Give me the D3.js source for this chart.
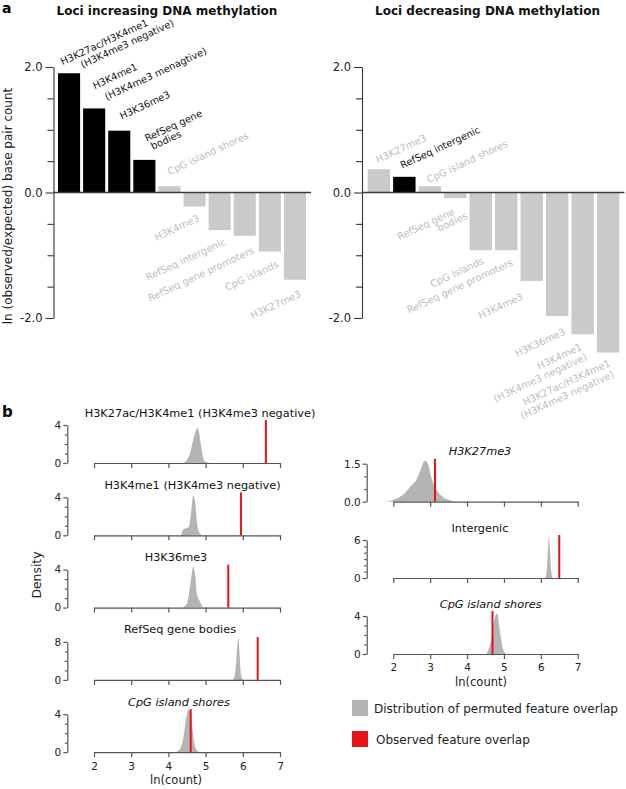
<!DOCTYPE html>
<html><head><meta charset="utf-8">
<script src="https://cdn.jsdelivr.net/npm/d3@7"></script>
<style>
body{margin:0;background:#fff}
svg{display:block}
text{font-family:"DejaVu Sans",sans-serif}
</style>
</head><body>
<svg id="c" width="626" height="789"></svg>
<script>
// ---------------- DATA ----------------
// Panel a: loci increasing DNA methylation
const incCategories = ["H3K27ac/H3K4me1 (H3K4me3 negative)","H3K4me1 (H3K4me3 menagtive)","H3K36me3","RefSeq gene bodies","CpG island shores","H3K4me3","RefSeq intergenic","RefSeq gene promoters","CpG islands","H3K27me3"];
const incValues = [1.90, 1.34, 0.985, 0.52, 0.10, -0.225, -0.60, -0.69, -0.94, -1.39];
const incHighlighted = [true, true, true, true, false, false, false, false, false, false];
const incLabelLines = [["H3K27ac/H3K4me1","(H3K4me3 negative)"],["H3K4me1","(H3K4me3 menagtive)"],["H3K36me3"],["RefSeq gene","bodies"],["CpG island shores"],["H3K4me3"],["RefSeq intergenic"],["RefSeq gene promoters"],["CpG islands"],["H3K27me3"]];

// Panel a: loci decreasing DNA methylation
const decCategories = ["H3K27me3","RefSeq intergenic","CpG island shores","RefSeq gene bodies","CpG Islands","RefSeq gene promoters","H3K4me3","H3K36me3","H3K4me1 (H3K4me3 negative)","H3K27ac/H3K4me1 (H3K4me3 negative)"];
const decValues = [0.37, 0.25, 0.10, -0.09, -0.92, -0.92, -1.41, -1.97, -2.26, -2.55];
const decHighlighted = [false, true, false, false, false, false, false, false, false, false];
const decLabelLines = [["H3K27me3"],["RefSeq intergenic"],["CpG island shores"],["RefSeq gene","bodies"],["CpG Islands"],["RefSeq gene promoters"],["H3K4me3"],["H3K36me3"],["H3K4me1","(H3K4me3 negative)"],["H3K27ac/H3K4me1","(H3K4me3 negative)"]];

const aMajorTicks = [-2, 0, 2];
const aMinorTicks = [-1.5, -1, -0.5, 0.5, 1, 1.5];

// Panel b: x ticks
const bXTicks = [2, 3, 4, 5, 6, 7];

// Panel b left column
const bLeftTitles = ["H3K27ac/H3K4me1 (H3K4me3 negative)","H3K4me1 (H3K4me3 negative)","H3K36me3","RefSeq gene bodies","CpG island shores"];
const bLeftItalic = [false, false, false, false, true];
const bLeftObserved = [6.62, 5.95, 5.61, 6.40, 4.60];
const bLeftYMax = [4, 4, 4, 8, 4];
const bLeftYStep = [1, 1, 1, 2, 1];
const densK27acK4me1 = [[4.40,0],[4.49,0.3],[4.58,1.0],[4.67,2.5],[4.73,3.35],[4.78,3.65],[4.82,3.3],[4.88,1.8],[4.94,0.5],[5.00,0.12],[5.12,0]];
const densK4me1 = [[4.34,0],[4.40,0.6],[4.47,0.75],[4.54,0.85],[4.58,1.4],[4.63,3.2],[4.67,4.2],[4.72,3.5],[4.76,1.7],[4.80,0.6],[4.88,0.05],[4.91,0]];
const densK36me3 = [[4.36,0],[4.49,0.35],[4.58,2.2],[4.63,3.65],[4.67,4.3],[4.72,3.4],[4.76,1.6],[4.80,1.0],[4.85,0.65],[4.90,0.2],[4.94,0]];
const densGeneBodies = [[5.74,0],[5.78,0.8],[5.82,3.5],[5.85,7.0],[5.88,8.8],[5.91,6.0],[5.94,2.0],[5.97,0.5],[6.01,0]];
const densShoresInc = [[4.18,0],[4.31,0.35],[4.40,1.5],[4.49,3.8],[4.55,4.55],[4.63,3.0],[4.70,0.9],[4.76,0.23],[4.85,0]];

// Panel b right column
const bRightTitles = ["H3K27me3","Intergenic","CpG island shores"];
const bRightItalic = [true, false, true];
const bRightObserved = [3.13, 6.50, 4.69];
const bRightYMax = [1.5, 6, 4];
const bRightYStep = [0.5, 1, 1];
const densK27me3 = [[1.77,0],[2.0,0.07],[2.27,0.28],[2.50,0.66],[2.63,0.87],[2.72,1.18],[2.86,1.62],[2.95,1.45],[3.04,0.92],[3.18,0.45],[3.36,0.17],[3.58,0.04],[3.65,0]];
const densIntergenic = [[6.12,0],[6.15,0.6],[6.18,3.0],[6.22,6.5],[6.25,4.0],[6.28,1.2],[6.32,0]];
const densShoresDec = [[4.53,0],[4.64,1.3],[4.73,3.4],[4.82,4.3],[4.89,2.4],[4.95,0.9],[5.01,0.2],[5.06,0]];

const legendLabels = ["Distribution of permuted feature overlap","Observed feature overlap"];

// ---------------- LAYOUT ----------------
const BLACK = "#000", GRAYBAR = "#cacaca", GRAYTXT = "#bcbcbc";
const DENS = "#b5b3b3", RED = "#e5121b";
const svg = d3.select("#c");

// label offsets (px) relative to bar centre / bar end
const incLabelOffsets = [[[-6.5,-8],[13.5,-5]],[[0.5,-19],[12.5,-8]],[[2.5,-11]],[[2.5,-18],[8.5,-10]],[[0,-11]],[[5.5,14]],[[6.7,14]],[[10,17]],[[9.5,15]],[[6.7,16.5]]];
const decLabelOffsets = [[[-1,-6]],[[-2,-8]],[[-1,-3]],[[0,16],[13,20]],[[4,13]],[[7.5,14.5]],[[-8,18]],[[9,18]],[[0,15],[5,25]],[[3,13],[6.5,24]]];

// panel letters
svg.append("text").attr("x",2).attr("y",13).attr("font-weight","bold").attr("font-size",14).text("a");
svg.append("text").attr("x",2).attr("y",417).attr("font-weight","bold").attr("font-size",15).text("b");

const yA = d3.scaleLinear().domain([-2, 2]).range([318, 67]);

function drawBarPanel(o) {
  const g = svg.append("g");
  const x = d3.scaleBand().domain(o.cats).range(o.range).paddingInner(0.12).paddingOuter(0.12);
  g.selectAll("rect.bar").data(o.cats).join("rect").attr("class","bar")
    .attr("x", d => x(d)).attr("width", x.bandwidth())
    .attr("y", (d,i) => yA(Math.max(0, o.vals[i])))
    .attr("height", (d,i) => Math.abs(yA(o.vals[i]) - yA(0)))
    .attr("fill", (d,i) => o.hi[i] ? BLACK : GRAYBAR);
  // zero line
  g.append("line").attr("x1", o.axisX).attr("x2", o.range[1] + 2)
    .attr("y1", yA(0)).attr("y2", yA(0)).attr("stroke", "#3a3a3a").attr("stroke-width", 1.3);
  // axes
  const major = g.append("g").attr("transform", `translate(${o.axisX},0)`)
    .call(d3.axisLeft(yA).tickValues(aMajorTicks).tickSize(8).tickSizeOuter(0).tickPadding(3).tickFormat(d => d.toFixed(1)));
  const minor = g.append("g").attr("transform", `translate(${o.axisX},0)`)
    .call(d3.axisLeft(yA).tickValues(aMinorTicks).tickSize(6).tickSizeOuter(0).tickFormat(""));
  minor.select(".domain").remove();
  [major, minor].forEach(a => {
    a.attr("font-family", null).attr("font-size", null);
    a.selectAll("path,line").attr("stroke", "#333").attr("stroke-width", 1.1);
    a.selectAll("text").attr("font-size", 11.5).attr("fill", "#222");
  });
  // title
  g.append("text").attr("x", o.titleX).attr("y", 15).attr("text-anchor", "middle")
    .attr("font-weight", "bold").attr("font-size", 12).attr("fill", "#111").text(o.title);
  // labels
  o.cats.forEach((c, i) => {
    const cx = x(c) + x.bandwidth() / 2;
    const pos = o.vals[i] >= 0;
    const yy = yA(o.vals[i]);
    o.lines[i].forEach((ln, j) => {
      const [dx, dy] = o.offs[i][j];
      g.append("text")
        .attr("transform", `translate(${cx + dx},${yy + dy}) rotate(-25)`)
        .attr("text-anchor", pos ? "start" : "end")
        .attr("font-size", 9.8)
        .attr("fill", o.hi[i] ? "#111" : GRAYTXT)
        .text(ln);
    });
  });
}

drawBarPanel({cats: incCategories, vals: incValues, hi: incHighlighted, lines: incLabelLines, offs: incLabelOffsets,
  range: [55, 309], axisX: 53.5, title: "Loci increasing DNA methylation", titleX: 167});
drawBarPanel({cats: decCategories, vals: decValues, hi: decHighlighted, lines: decLabelLines, offs: decLabelOffsets,
  range: [364.6, 622.4], axisX: 362, title: "Loci decreasing DNA methylation", titleX: 487.5});

svg.append("text").attr("transform", "translate(12,206) rotate(-90)").attr("text-anchor", "middle")
  .attr("font-size", 12).attr("fill", "#222").text("ln (observed/expected) base pair count");

// ---------------- Panel b ----------------
function drawDensity(o) {
  const g = svg.append("g");
  const x = d3.scaleLinear().domain([2, 7]).range(o.xr);
  const y = d3.scaleLinear().domain([0, o.ymax]).range([o.axisY, o.axisY - 38]);
  const area = d3.area().x(d => x(d[0])).y0(y(0)).y1(d => y(d[1])).curve(d3.curveMonotoneX);
  g.append("path").datum(o.dens).attr("d", area).attr("fill", DENS);
  // x axis
  const xa = g.append("g").attr("transform", `translate(0,${o.axisY})`)
    .call(d3.axisBottom(x).tickValues(bXTicks).tickSize(5).tickSizeOuter(0).tickPadding(5)
      .tickFormat(o.showX ? d3.format("d") : ""));
  // y axis
  const fmt = o.ymax % 1 ? (d => d.toFixed(1)) : d3.format("d");
  const ya = g.append("g").attr("transform", `translate(${o.yAxisX},0)`)
    .call(d3.axisLeft(y).tickValues([0, o.ymax]).tickSize(4).tickSizeOuter(0).tickPadding(2).tickFormat(fmt));
  const ym = g.append("g").attr("transform", `translate(${o.yAxisX},0)`)
    .call(d3.axisLeft(y).tickValues(d3.range(o.ystep, o.ymax - 1e-9, o.ystep)).tickSize(2.5).tickSizeOuter(0).tickFormat(""));
  ym.select(".domain").remove();
  [xa, ya, ym].forEach(a => {
    a.attr("font-family", null).attr("font-size", null);
    a.selectAll("path,line").attr("stroke", "#555").attr("stroke-width", 1.2);
    a.selectAll("text").attr("font-size", 10.5).attr("fill", "#222");
  });
  // observed
  g.append("line").attr("x1", x(o.obs)).attr("x2", x(o.obs))
    .attr("y1", y(0)).attr("y2", y(o.ymax * 1.13)).attr("stroke", RED).attr("stroke-width", 2);
  // title
  g.append("text").attr("x", o.titleX).attr("y", o.axisY - 46.5).attr("text-anchor", "middle")
    .attr("font-size", 11.3).attr("font-style", o.italic ? "italic" : "normal").attr("fill", "#111").text(o.title);
  if (o.showX) {
    g.append("text").attr("x", o.xlabX).attr("y", o.axisY + 32).attr("text-anchor", "middle")
      .attr("font-size", 11.5).attr("fill", "#222").text("ln(count)");
  }
}

const leftDens = [densK27acK4me1, densK4me1, densK36me3, densGeneBodies, densShoresInc];
const leftAxisY = [463, 535.3, 607.6, 679.9, 752.2];
const leftTitleX = [200, 192.5, 176, 180, 179];
bLeftTitles.forEach((t, i) => drawDensity({
  title: t, italic: bLeftItalic[i], obs: bLeftObserved[i], ymax: bLeftYMax[i], ystep: bLeftYStep[i], dens: leftDens[i],
  xr: [94, 280], yAxisX: 67.3, axisY: leftAxisY[i], titleX: leftTitleX[i], showX: i === bLeftTitles.length - 1, xlabX: 176
}));

const rightDens = [densK27me3, densIntergenic, densShoresDec];
const rightAxisY = [501.7, 578, 654];
const rightTitleX = [480, 480, 490.7];
bRightTitles.forEach((t, i) => drawDensity({
  title: t, italic: bRightItalic[i], obs: bRightObserved[i], ymax: bRightYMax[i], ystep: bRightYStep[i], dens: rightDens[i],
  xr: [393.3, 577.7], yAxisX: 366.7, axisY: rightAxisY[i], titleX: rightTitleX[i], showX: i === bRightTitles.length - 1, xlabX: 481
}));

svg.append("text").attr("transform", "translate(41,575) rotate(-90)").attr("text-anchor", "middle")
  .attr("font-size", 12.4).attr("fill", "#222").text("Density");

// legend
const legColors = [DENS, RED];
const leg = svg.append("g");
legendLabels.forEach((l, i) => {
  leg.append("rect").attr("x", 352).attr("y", 700 + i * 31).attr("width", 16).attr("height", 16).attr("fill", legColors[i]);
  leg.append("text").attr("x", 374 + i * 2).attr("y", 713 + i * 31).attr("font-size", 12).attr("fill", "#222").text(l);
});
</script>
</body></html>
